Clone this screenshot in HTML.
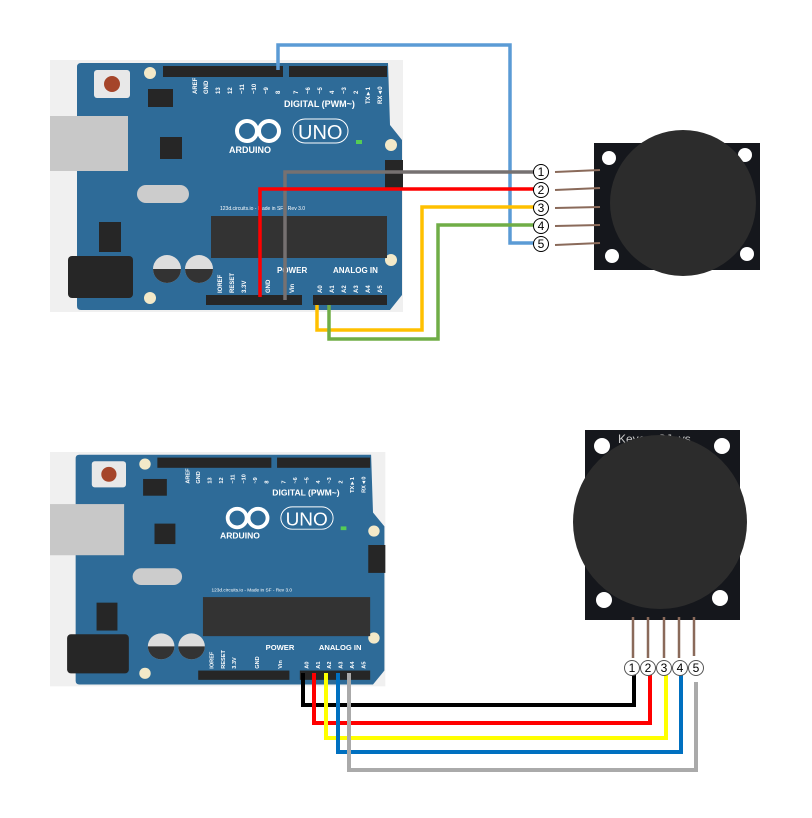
<!DOCTYPE html>
<html><head><meta charset="utf-8"><style>
html,body{margin:0;padding:0;background:#fff;}
svg{display:block;}
text{font-family:"Liberation Sans",sans-serif;}
</style></head><body>
<svg width="812" height="818" viewBox="0 0 812 818" xmlns="http://www.w3.org/2000/svg">
<defs>
<g id="board">
  <rect x="0" y="0" width="353" height="252" fill="#f0f0f0"/>
  <path d="M31,3 H338 L340,65 L352,80 V235 L340,250 H31 Q27,250 27,246 V7 Q27,3 31,3 Z" fill="#2e6b98"/>
  <rect x="0" y="56" width="78" height="55" fill="#c8c8c8"/>
  <rect x="18" y="196" width="65" height="42" rx="4" fill="#262626"/>
  <rect x="44" y="10" width="36" height="28" rx="3" fill="#e8e8e8"/>
  <circle cx="62" cy="24" r="8" fill="#a5452a"/>
  <circle cx="100" cy="13" r="6" fill="#f3e9c8"/>
  <circle cx="100" cy="238" r="6" fill="#f3e9c8"/>
  <circle cx="341" cy="85" r="6" fill="#f3e9c8"/>
  <circle cx="341" cy="200" r="6" fill="#f3e9c8"/>
  <rect x="98" y="29" width="25" height="18" fill="#262626"/>
  <rect x="113" y="6" width="120" height="11" fill="#262626"/>
  <rect x="239" y="6" width="98" height="11" fill="#262626"/>
  <rect x="156" y="235" width="96" height="10" fill="#262626"/>
  <rect x="263" y="235" width="74" height="10" fill="#262626"/>
  <g font-size="6" fill="#fff" font-weight="bold">
    <text transform="translate(147,34) rotate(-90)">AREF</text>
    <text transform="translate(158,34) rotate(-90)">GND</text>
    <text transform="translate(170,34) rotate(-90)">13</text>
    <text transform="translate(182,34) rotate(-90)">12</text>
    <text transform="translate(194,34) rotate(-90)">~11</text>
    <text transform="translate(206,34) rotate(-90)">~10</text>
    <text transform="translate(218,34) rotate(-90)">~9</text>
    <text transform="translate(230,34) rotate(-90)">8</text>
    <text transform="translate(248,34) rotate(-90)">7</text>
    <text transform="translate(260,34) rotate(-90)">~6</text>
    <text transform="translate(272,34) rotate(-90)">~5</text>
    <text transform="translate(284,34) rotate(-90)">4</text>
    <text transform="translate(296,34) rotate(-90)">~3</text>
    <text transform="translate(308,34) rotate(-90)">2</text>
    <text transform="translate(320,44) rotate(-90)">TX►1</text>
    <text transform="translate(332,44) rotate(-90)">RX◄0</text>
    <text transform="translate(172,233) rotate(-90)">IOREF</text>
    <text transform="translate(184,233) rotate(-90)">RESET</text>
    <text transform="translate(196,233) rotate(-90)">3.3V</text>
    <text transform="translate(220,233) rotate(-90)">GND</text>
    <text transform="translate(244,233) rotate(-90)">Vin</text>
    <text transform="translate(272,233) rotate(-90)">A0</text>
    <text transform="translate(284,233) rotate(-90)">A1</text>
    <text transform="translate(296,233) rotate(-90)">A2</text>
    <text transform="translate(308,233) rotate(-90)">A3</text>
    <text transform="translate(320,233) rotate(-90)">A4</text>
    <text transform="translate(332,233) rotate(-90)">A5</text>
  </g>
  <text x="234" y="47" font-size="9" font-weight="bold" fill="#fff">DIGITAL (PWM~)</text>
  <text x="179" y="93" font-size="9" font-weight="bold" fill="#fff">ARDUINO</text>
  <circle cx="197" cy="71" r="10" fill="none" stroke="#fff" stroke-width="4"/>
  <circle cx="219" cy="71" r="10" fill="none" stroke="#fff" stroke-width="4"/>
  <rect x="243" y="59" width="55" height="24" rx="12" fill="none" stroke="#fff" stroke-width="1"/>
  <text x="248" y="79" font-size="20" fill="#fff">UNO</text>
  <text x="227" y="213" font-size="8" font-weight="bold" fill="#fff">POWER</text>
  <text x="283" y="213" font-size="8" font-weight="bold" fill="#fff">ANALOG IN</text>
  <rect x="110" y="77" width="22" height="22" fill="#262626"/>
  <rect x="87" y="125" width="52" height="18" rx="9" fill="#ccc"/>
  <rect x="49" y="162" width="22" height="30" fill="#262626"/>
  <rect x="161" y="156" width="176" height="42" fill="#333"/>
  <text x="170" y="150" font-size="5" fill="#fff">123d.circuits.io - Made in SF - Rev 3.0</text>
  <circle cx="117" cy="209" r="14" fill="#ddd"/><path d="M103,209 A14,14 0 0 0 131,209Z" fill="#333"/>
  <circle cx="149" cy="209" r="14" fill="#ddd"/><path d="M135,209 A14,14 0 0 0 163,209Z" fill="#333"/>
  <rect x="306" y="80" width="6" height="4" fill="#5c5"/>
  <rect x="335" y="100" width="18" height="30" fill="#262626"/>
</g>
</defs>

<g transform="translate(50,60)"><use href="#board"/></g>
<rect x="594" y="143" width="166" height="127" fill="#15171c"/>
<circle cx="609" cy="158" r="7" fill="#fff"/><circle cx="745" cy="155" r="7" fill="#fff"/>
<circle cx="612" cy="256" r="7" fill="#fff"/><circle cx="747" cy="254" r="7" fill="#fff"/>
<circle cx="683" cy="203" r="73" fill="#2c2c2c"/>
<g stroke="#8a6a5a" stroke-width="2">
<line x1="555" y1="172" x2="600" y2="170"/><line x1="555" y1="190" x2="600" y2="188"/>
<line x1="555" y1="208" x2="600" y2="207"/><line x1="555" y1="226" x2="600" y2="225"/>
<line x1="555" y1="245" x2="600" y2="243"/></g>
<g fill="none" stroke-width="3.5">
<polyline points="278,70 278,45 510,45 510,243 534,243" stroke="#5b9bd5"/>
<polyline points="285,300 285,172 534,172" stroke="#767171"/>
<polyline points="260,297 260,189 534,189" stroke="#ff0000"/>
<polyline points="317,305 317,330 422,330 422,207 534,207" stroke="#ffc000"/>
<polyline points="329,305 329,339 438,339 438,225 534,225" stroke="#70ad47"/>
</g>
<g font-size="12" text-anchor="middle" fill="#000">
<circle cx="541" cy="172" r="7.5" fill="#fff" stroke="#000"/><text x="541" y="176">1</text>
<circle cx="541" cy="190" r="7.5" fill="#fff" stroke="#000"/><text x="541" y="194">2</text>
<circle cx="541" cy="208" r="7.5" fill="#fff" stroke="#000"/><text x="541" y="212">3</text>
<circle cx="541" cy="226" r="7.5" fill="#fff" stroke="#000"/><text x="541" y="230">4</text>
<circle cx="541" cy="244" r="7.5" fill="#fff" stroke="#000"/><text x="541" y="248">5</text>
</g>

<g transform="translate(50,452) scale(0.95,0.93)"><use href="#board"/></g>
<rect x="585" y="430" width="155" height="190" fill="#15171c"/>
<circle cx="602" cy="446" r="8" fill="#fff"/><circle cx="722" cy="446" r="8" fill="#fff"/>
<circle cx="604" cy="600" r="8" fill="#fff"/><circle cx="720" cy="598" r="8" fill="#fff"/>
<text x="618" y="443" font-size="12" fill="#ccc">Keyes_SJoys</text>
<circle cx="660" cy="522" r="87" fill="#2c2c2c"/>
<g stroke="#8a6a5a" stroke-width="2.5">
<line x1="633" y1="617" x2="633" y2="658"/><line x1="648" y1="617" x2="648" y2="658"/>
<line x1="664" y1="617" x2="664" y2="658"/><line x1="679" y1="617" x2="679" y2="658"/>
<line x1="694" y1="617" x2="694" y2="656"/></g>
<g fill="none" stroke-width="4">
<polyline points="303,673 303,705 634,705 634,675" stroke="#000"/>
<polyline points="314,673 314,723 650,723 650,675" stroke="#ff0000"/>
<polyline points="326,673 326,738 666,738 666,675" stroke="#ffff00"/>
<polyline points="338,673 338,752 681,752 681,675" stroke="#0070c0"/>
<polyline points="349,673 349,770 696,770 696,682" stroke="#aaaaaa"/>
</g>
<g font-size="12" text-anchor="middle" fill="#000">
<circle cx="632" cy="668" r="7.5" fill="#fff" stroke="#555"/><text x="632" y="672">1</text>
<circle cx="648" cy="668" r="7.5" fill="#fff" stroke="#555"/><text x="648" y="672">2</text>
<circle cx="664" cy="668" r="7.5" fill="#fff" stroke="#555"/><text x="664" y="672">3</text>
<circle cx="680" cy="668" r="7.5" fill="#fff" stroke="#555"/><text x="680" y="672">4</text>
<circle cx="696" cy="668" r="7.5" fill="#fff" stroke="#555"/><text x="696" y="672">5</text>
</g>
</svg>
</body></html>
